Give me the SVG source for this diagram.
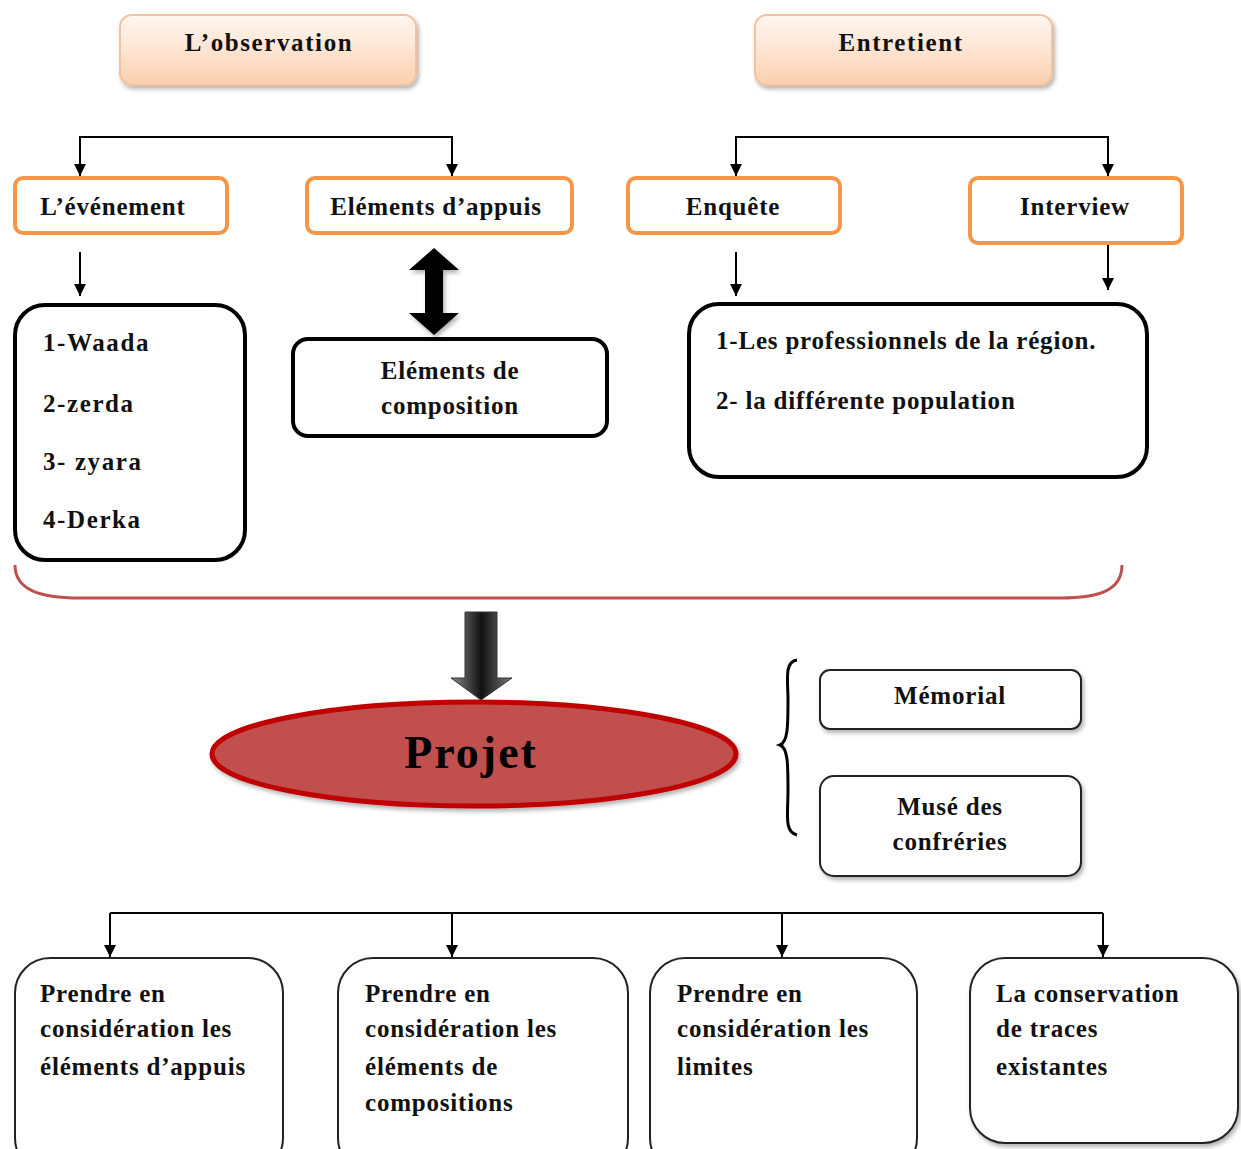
<svg xmlns="http://www.w3.org/2000/svg" width="1241" height="1149" viewBox="0 0 1241 1149">
<defs>
<linearGradient id="peach" x1="0" y1="0" x2="0" y2="1">
<stop offset="0" stop-color="#fff7f1"/>
<stop offset="0.5" stop-color="#fde4d2"/>
<stop offset="1" stop-color="#fbcfae"/>
</linearGradient>
<linearGradient id="darkArrow" x1="0" y1="0" x2="1" y2="0">
<stop offset="0" stop-color="#8a8a8a"/>
<stop offset="0.5" stop-color="#111"/>
<stop offset="1" stop-color="#7a7a7a"/>
</linearGradient>
<filter id="sh" x="-10%" y="-10%" width="130%" height="140%">
<feDropShadow dx="2" dy="3" stdDeviation="2" flood-color="#000" flood-opacity="0.3"/>
</filter>
<marker id="ah" viewBox="0 0 10 10" refX="10" refY="5" markerWidth="12" markerHeight="12" markerUnits="userSpaceOnUse" orient="auto">
<path d="M0,0 L10,5 L0,10 z" fill="#000"/>
</marker>
<style>
.t{font-family:"Liberation Serif","Times New Roman",serif;font-weight:bold;font-size:25px;letter-spacing:0.8px;fill:#111;}
.c{text-anchor:middle;}
.h{letter-spacing:1.6px;}
.top{fill:url(#peach);stroke:#f5c29c;stroke-width:2;}
.or{fill:#fff;stroke:#f79646;stroke-width:4;}
.bk{fill:#fff;stroke:#000;stroke-width:4;}
.thin{fill:#fff;stroke:#222;stroke-width:2;}
.ln{fill:none;stroke:#000;stroke-width:2;}
</style>
</defs>

<g id="connectors">
<path class="ln" d="M80,176 V137 H452 V176" marker-end="url(#ah)"/>
<path class="ln" d="M80,150 V176" marker-end="url(#ah)"/>
<path class="ln" d="M736,176 V137 H1108 V176" marker-end="url(#ah)"/>
<path class="ln" d="M736,150 V176" marker-end="url(#ah)"/>
<path class="ln" d="M80,252 V296" marker-end="url(#ah)"/>
<path class="ln" d="M736,252 V296" marker-end="url(#ah)"/>
<path class="ln" d="M1108,243 V290" marker-end="url(#ah)"/>
<path class="ln" d="M110,913 H1103"/>
<path class="ln" d="M110,913 V957" marker-end="url(#ah)"/>
<path class="ln" d="M452,913 V957" marker-end="url(#ah)"/>
<path class="ln" d="M782,913 V957" marker-end="url(#ah)"/>
<path class="ln" d="M1103,913 V957" marker-end="url(#ah)"/>
<path d="M434,248 L459,270 L443,270 L443,313 L459,313 L434,335 L409,313 L425,313 L425,270 L409,270 Z" fill="#000" filter="url(#sh)"/>
<path d="M15,565 C15,590 40,598 80,598 H1060 C1100,598 1122,590 1122,565" fill="none" stroke="#c0504d" stroke-width="3"/>
<path d="M465,612 H497 V678 H512 L481,700 L451,678 H465 Z" fill="url(#darkArrow)" stroke="#333" stroke-width="1"/>
<path d="M797,660 C784,662 788,680 788,700 C788,725 788,742 780,745 C788,748 788,765 788,790 C788,815 784,832 797,835" fill="none" stroke="#000" stroke-width="3"/>
</g>

<g id="observation">
<rect class="top" x="120" y="15" width="296" height="70" rx="12" filter="url(#sh)"/>
<text class="t c h" x="269" y="51">L’observation</text>
</g>
<g id="entretient">
<rect class="top" x="755" y="15" width="297" height="70" rx="12" filter="url(#sh)"/>
<text class="t c h" x="901" y="51">Entretient</text>
</g>

<g id="evenement">
<rect class="or" x="15" y="178" width="212" height="55" rx="8"/>
<text class="t c" x="113" y="215">L’événement</text>
</g>
<g id="appuis">
<rect class="or" x="307" y="178" width="265" height="55" rx="8"/>
<text class="t c" x="436" y="215">Eléments d’appuis</text>
</g>
<g id="enquete">
<rect class="or" x="628" y="178" width="212" height="55" rx="8"/>
<text class="t c" x="733" y="215">Enquête</text>
</g>
<g id="interview">
<rect class="or" x="970" y="178" width="212" height="65" rx="8"/>
<text class="t c" x="1075" y="215">Interview</text>
</g>

<g id="liste">
<rect class="bk" x="15" y="305" width="230" height="255" rx="30"/>
<text class="t h" x="43" y="351">1-Waada</text>
<text class="t h" x="43" y="412">2-zerda</text>
<text class="t h" x="43" y="470">3- zyara</text>
<text class="t h" x="43" y="528">4-Derka</text>
</g>
<g id="composition">
<rect class="bk" x="293" y="339" width="314" height="97" rx="15"/>
<text class="t c" x="450" y="379">Eléments de</text>
<text class="t c" x="450" y="414">composition</text>
</g>
<g id="population">
<rect class="bk" x="689" y="304" width="458" height="173" rx="30"/>
<text class="t" x="716" y="349">1-Les professionnels de la  région.</text>
<text class="t" x="716" y="409">2- la différente population</text>
</g>

<g id="projet">
<ellipse cx="474" cy="754" rx="262" ry="52" fill="#c0504d" stroke="#c00000" stroke-width="5" filter="url(#sh)"/>
<text class="t c" x="471" y="768" style="font-size:46px;letter-spacing:2px;fill:#000">Projet</text>
</g>

<g id="memorial">
<rect class="thin" x="820" y="670" width="261" height="59" rx="10" filter="url(#sh)"/>
<text class="t c" x="950" y="704">Mémorial</text>
</g>
<g id="muse">
<rect class="thin" x="820" y="776" width="261" height="100" rx="14" filter="url(#sh)"/>
<text class="t c" x="950" y="815">Musé des</text>
<text class="t c" x="950" y="850">confréries</text>
</g>

<g id="b1">
<rect class="thin" x="15" y="958" width="268" height="215" rx="35"/>
<text class="t" x="40" y="1002">Prendre en</text>
<text class="t" x="40" y="1037">considération les</text>
<text class="t" x="40" y="1075">éléments d’appuis</text>
</g>
<g id="b2">
<rect class="thin" x="338" y="958" width="290" height="215" rx="35"/>
<text class="t" x="365" y="1002">Prendre en</text>
<text class="t" x="365" y="1037">considération les</text>
<text class="t" x="365" y="1075">éléments de</text>
<text class="t" x="365" y="1111">compositions</text>
</g>
<g id="b3">
<rect class="thin" x="650" y="958" width="267" height="215" rx="35"/>
<text class="t" x="677" y="1002">Prendre en</text>
<text class="t" x="677" y="1037">considération les</text>
<text class="t" x="677" y="1075">limites</text>
</g>
<g id="b4">
<rect class="thin" x="970" y="958" width="268" height="185" rx="35" filter="url(#sh)"/>
<text class="t" x="996" y="1002">La conservation</text>
<text class="t" x="996" y="1037">de traces</text>
<text class="t" x="996" y="1075">existantes</text>
</g>
</svg>
